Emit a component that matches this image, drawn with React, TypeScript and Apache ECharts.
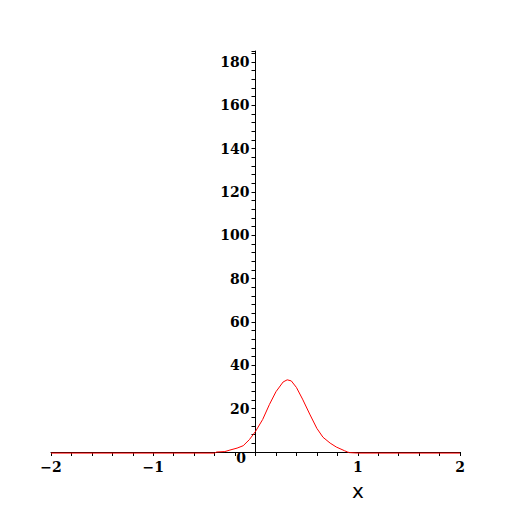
import React, { useEffect, useRef } from "react";
import * as echarts from "echarts";

const xValues = [
  -2, -0.4, -0.38, -0.3, -0.25, -0.18, -0.12, -0.06, 0, 0.07, 0.137, 0.2, 0.27,
  0.31, 0.35, 0.4, 0.46, 0.53, 0.6, 0.66, 0.73, 0.79, 0.87, 0.9, 0.92, 1.0, 2,
];
const yValues = [
  -0.5, -0.5, 0, 0.2, 0.9, 1.8, 2.9, 5.7, 9.5, 15, 22, 27.8, 32.3, 33.3, 32.8,
  29.8, 24.4, 17.5, 10.9, 6.8, 4.1, 2.3, 0.6, 0, -0.3, -0.5, -0.5,
];
const xTickLabels: Record<string, string> = { "-2": "\u22122", "-1": "\u22121", "0": "", "1": "1", "2": "2" };
const axisName = "x";
const originLabel = "0";

const GRID_LEFT = 51;
const GRID_RIGHT = 52;
const X_MIN = -2;
const X_MAX = 2;

export default function App() {
  const ref = useRef<HTMLDivElement>(null);
  useEffect(() => {
    if (!ref.current) return;
    const chart = echarts.init(ref.current, null, { renderer: "svg" });
    const plotW = 512 - GRID_LEFT - GRID_RIGHT;
    const yAxisOffset = -((0 - X_MIN) / (X_MAX - X_MIN)) * plotW;
    const labelFont = {
      fontFamily: "DejaVu Serif",
      fontWeight: "bold" as const,
      fontSize: 14,
      color: "#000",
    };
    chart.setOption({
      animation: false,
      backgroundColor: "#fff",
      grid: { left: GRID_LEFT, right: GRID_RIGHT, top: 51, bottom: 60, containLabel: false },
      xAxis: {
        type: "value",
        min: X_MIN,
        max: X_MAX,
        interval: 1,
        splitLine: { show: false },
        axisLine: { onZero: true, lineStyle: { color: "#000", width: 1 } },
        axisTick: { show: true, length: 4, lineStyle: { color: "#000" } },
        minorTick: { show: true, splitNumber: 5, length: 4, lineStyle: { color: "#000" } },
        axisLabel: {
          ...labelFont,
          margin: 8,
          formatter: (v: number) => xTickLabels[String(v)] ?? String(v),
        },
      },
      yAxis: {
        type: "value",
        min: 0,
        max: 185,
        interval: 20,
        offset: yAxisOffset,
        splitLine: { show: false },
        axisLine: { onZero: false, lineStyle: { color: "#000", width: 1 } },
        axisTick: { show: true, length: 4, lineStyle: { color: "#000" } },
        minorTick: { show: true, splitNumber: 5, length: 4, lineStyle: { color: "#000" } },
        axisLabel: {
          ...labelFont,
          margin: 6,
          showMaxLabel: false,
          formatter: (v: number) => (v === 0 ? "" : String(v)),
        },
      },
      graphic: [
        {
          type: "text",
          x: 241,
          y: 458,
          style: {
            text: originLabel,
            fontFamily: "DejaVu Serif",
            fontWeight: "bold",
            fontSize: 14,
            fill: "#000",
            align: "center",
            verticalAlign: "middle",
          },
        },
        {
          type: "text",
          x: 358,
          y: 491,
          style: {
            text: axisName,
            fontFamily: "DejaVu Sans",
            fontSize: 20,
            fill: "#000",
            align: "center",
            verticalAlign: "middle",
          },
        },
      ],
      series: [
        {
          type: "line",
          data: xValues.map((x, i) => [x, yValues[i]]),
          showSymbol: false,
          clip: false,
          lineStyle: { color: "#ff0000", width: 1 },
          z: 1,
        },
      ],
    });
    return () => chart.dispose();
  }, []);
  return (
    <div
      ref={ref}
      style={{ position: "fixed", left: 0, top: 0, width: 512, height: 512 }}
    />
  );
}
